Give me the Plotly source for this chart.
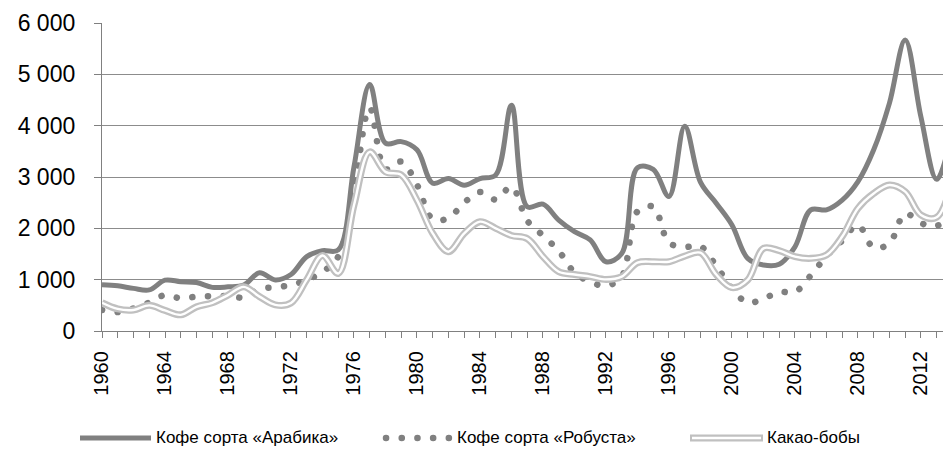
import plotly.graph_objects as go

years = list(range(1960, 2015))

arabica = [900, 880, 830, 800, 990, 960, 945, 850, 860, 895,
           1135, 995, 1100, 1450, 1565, 1580, 3200, 4800, 3660, 3690,
           3530, 2880, 2970, 2840, 2970, 3040, 4400, 2420, 2470, 2160,
           1935, 1775, 1350, 1510, 3180, 3150, 2620, 3990, 2900, 2490,
           2065, 1415, 1285, 1300, 1640, 2360, 2360, 2550, 2910, 3530,
           4440, 5670, 4170, 2955, 3900]

robusta = [410, 370, 440, 555, 700, 635, 670, 680, 680, 655,
           820, 850, 895, 995, 1150, 1450, 2750, 4350, 3150, 3300,
           2850, 2180, 2200, 2500, 2710, 2560, 2810, 2150, 1860, 1560,
           1140, 960, 880, 1060, 2330, 2420, 1720, 1640, 1650, 1270,
           830, 550, 630, 760, 760, 1080, 1460, 1760, 2065, 1620,
           1710, 2290, 2100, 2050, 2250]

cocoa = [550, 430, 410, 500, 400, 315, 470, 550, 700, 860,
         670, 510, 545, 1000, 1470, 1120, 2450, 3490, 3100, 3040,
         2550, 1900, 1545, 1900, 2130, 2000, 1860, 1800, 1450, 1155,
         1100, 1060, 1005, 1060, 1330, 1350, 1350, 1460, 1525, 1100,
         845, 995, 1610, 1565, 1450, 1415, 1480, 1840, 2390, 2680,
         2845, 2715, 2260, 2215, 2950]

names = ["Кофе сорта «Арабика»", "Кофе сорта «Робуста»", "Какао-бобы"]

DARK = "#808080"
LIGHT = "#c0c0c0"
DOT = "0.1px,15.6px"
FONT = "Liberation Sans, Arial, sans-serif"

fig = go.Figure()
fig.add_trace(go.Scatter(x=years, y=arabica, mode="lines", name=names[0],
                         line=dict(color=DARK, width=5, shape="spline", smoothing=1),
                         showlegend=False, hoverinfo="skip"))
fig.add_trace(go.Scatter(x=years, y=robusta, mode="lines", name=names[1],
                         line=dict(color=DARK, width=6.5, dash=DOT, shape="spline", smoothing=1),
                         showlegend=False, hoverinfo="skip"))
fig.add_trace(go.Scatter(x=years, y=cocoa, mode="lines", name=names[2],
                         line=dict(color=LIGHT, width=7, shape="spline", smoothing=1),
                         showlegend=False, hoverinfo="skip"))
fig.add_trace(go.Scatter(x=years, y=cocoa, mode="lines", name=names[2],
                         line=dict(color="white", width=2.4, shape="spline", smoothing=1),
                         showlegend=False, hoverinfo="skip"))

W, H = 943, 459
L, R, T, B = 102, 0, 23, 128
pw, ph = W - L - R, H - T - B


def px(x):
    return (x - L) / pw


def py(y):
    return (H - B - y) / ph


leg_y = 438
shapes = [
    dict(type="line", xref="paper", yref="paper", x0=px(80), x1=px(151), y0=py(leg_y), y1=py(leg_y),
         line=dict(color=DARK, width=5)),
    dict(type="line", xref="paper", yref="paper", x0=px(386), x1=px(452), y0=py(leg_y), y1=py(leg_y),
         line=dict(color=DARK, width=6.5, dash=DOT)),
    dict(type="line", xref="paper", yref="paper", x0=px(690), x1=px(763), y0=py(leg_y), y1=py(leg_y),
         line=dict(color=LIGHT, width=7)),
    dict(type="line", xref="paper", yref="paper", x0=px(692), x1=px(761), y0=py(leg_y), y1=py(leg_y),
         line=dict(color="white", width=2.4)),
]
annotations = []
for xs, t in zip([154, 455, 765], names):
    annotations.append(dict(text=t, xref="paper", yref="paper", x=px(xs), y=py(leg_y - 1),
                            xanchor="left", yanchor="middle", showarrow=False,
                            font=dict(family=FONT, size=17, color="black")))

fig.update_layout(
    width=W, height=H,
    margin=dict(l=L, r=R, t=T, b=B),
    paper_bgcolor="white", plot_bgcolor="white",
    separators=". ",
    showlegend=False,
    shapes=shapes, annotations=annotations,
    font=dict(family=FONT, color="black"),
)
fig.update_xaxes(range=[1960, 2013.4], tick0=1960, dtick=4, tickangle=-90,
                 ticks="outside", ticklen=6, tickcolor=DARK, tickwidth=1.3,
                 showline=True, linecolor=DARK, linewidth=1.3,
                 showgrid=False, zeroline=False, ticklabelstandoff=5,
                 minor=dict(dtick=1, tick0=1960, ticks="outside", ticklen=6,
                            tickcolor=DARK, tickwidth=1.3, showgrid=False),
                 tickfont=dict(family=FONT, size=20, color="black"))
fig.update_yaxes(range=[0, 6000], dtick=1000, tickformat=",d",
                 ticks="outside", ticklen=7, tickcolor=DARK, tickwidth=1.3,
                 showline=True, linecolor=DARK, linewidth=1.3,
                 showgrid=True, gridcolor="#8c8c8c", gridwidth=1.3, zeroline=False,
                 ticklabelstandoff=14,
                 tickfont=dict(family=FONT, size=23, color="black"))

post = """
document.body.style.margin = '0';
document.body.style.padding = '0';
document.querySelectorAll('path').forEach(function(p){
  var d = p.style.strokeDasharray || p.getAttribute('stroke-dasharray') || '';
  if (d.indexOf('0.1') === 0) { p.style.strokeLinecap = 'round'; }
});
"""
fig.write_html("out.html", post_script=post, config={"displayModeBar": False})
